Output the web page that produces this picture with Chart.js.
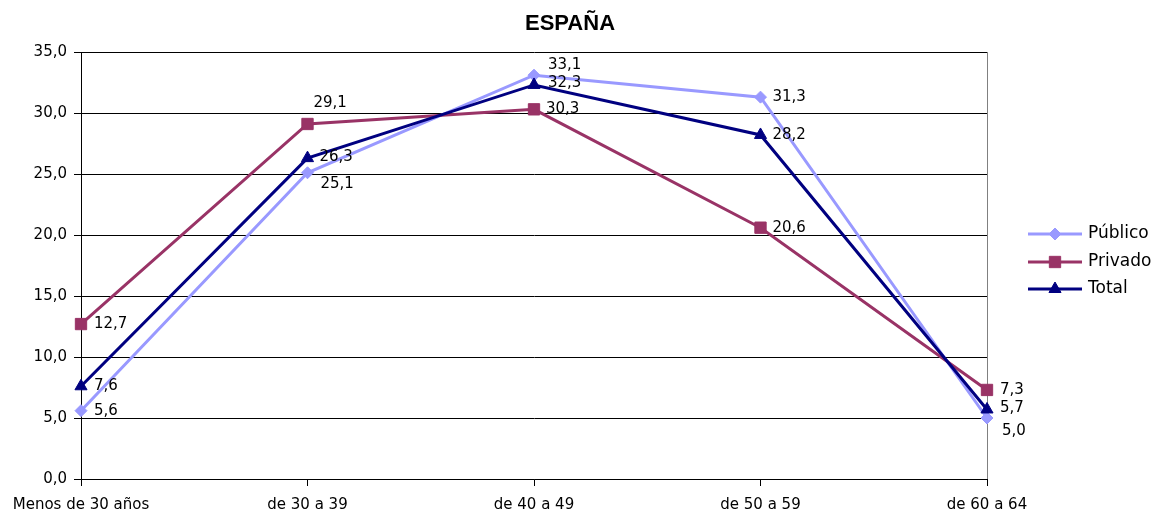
<!DOCTYPE html>
<html lang="es">
<head>
<meta charset="utf-8">
<title>España</title>
<script src="https://cdn.jsdelivr.net/npm/chart.js@4.4.1/dist/chart.umd.min.js"></script>
<style>
    html, body { margin: 0; padding: 0; background: #fff; overflow: hidden; }
    canvas { display: block; }
</style>
</head>
<body>
<canvas id="espanaChart" width="1157" height="511"></canvas>
<script>
// Chart data
const categories = ['Menos de 30 años', 'de 30 a 39', 'de 40 a 49', 'de 50 a 59', 'de 60 a 64'];
const publicoValues = [5.6, 25.1, 33.1, 31.3, 5.0];
const privadoValues = [12.7, 29.1, 30.3, 20.6, 7.3];
const totalValues = [7.6, 26.3, 32.3, 28.2, 5.7];
const yTickValues = [0, 5, 10, 15, 20, 25, 30, 35];
const chartTitle = 'ESPAÑA';

// Where each value label sits relative to its point (dx, dy)
const labelOffsets = {
    'Público': [[13, 0], [13, 11], [14, -10], [12, 0], [15, 13]],
    'Privado': [[13, 0], [6, -21], [12, 0], [12, 0], [13, 0]],
    'Total':   [[13, 0], [12, -1], [14, -2], [12, 0], [13, -1]]
};

const smallFont = '"DejaVu Sans", sans-serif';

// Function to format numbers with a decimal comma
function formatNumber(value) {
    return value.toFixed(1).replace('.', ',');
}

// Plugin: grey right border of the plot area
const framePlugin = {
    id: 'frame',
    beforeDatasetsDraw(chart) {
        const { ctx, chartArea } = chart;
        ctx.save();
        ctx.strokeStyle = '#808080';
        ctx.lineWidth = 1;
        ctx.beginPath();
        ctx.moveTo(chartArea.right + 0.5, chartArea.top);
        ctx.lineTo(chartArea.right + 0.5, chartArea.bottom);
        ctx.stroke();
        ctx.restore();
    }
};

// Plugin: value labels next to the points
const valueLabelsPlugin = {
    id: 'valueLabels',
    afterDatasetsDraw(chart) {
        const ctx = chart.ctx;
        ctx.save();
        ctx.font = '15px ' + smallFont;
        ctx.fillStyle = '#000';
        ctx.textAlign = 'left';
        ctx.textBaseline = 'middle';
        chart.data.datasets.forEach((ds, i) => {
            const meta = chart.getDatasetMeta(i);
            meta.data.forEach((pt, j) => {
                const off = labelOffsets[ds.label][j];
                ctx.fillText(formatNumber(ds.data[j]), pt.x + off[0], pt.y + off[1]);
            });
        });
        ctx.restore();
    }
};

// Plugin: title and legend drawn like the original
const titleLegendPlugin = {
    id: 'titleLegend',
    afterDraw(chart) {
        const ctx = chart.ctx;
        ctx.save();

        // Title
        ctx.font = 'bold 22px "Liberation Sans", Arial, sans-serif';
        ctx.fillStyle = '#000';
        ctx.textAlign = 'center';
        ctx.textBaseline = 'middle';
        ctx.fillText(chartTitle, 570, 24);

        // Legend
        const legendX = 1028;
        const legendY = [234, 262, 289];
        chart.data.datasets.forEach((ds, i) => {
            const y = legendY[i];
            ctx.strokeStyle = ds.borderColor;
            ctx.lineWidth = 3;
            ctx.beginPath();
            ctx.moveTo(legendX, y);
            ctx.lineTo(legendX + 54, y);
            ctx.stroke();

            ctx.fillStyle = ds.pointBackgroundColor;
            ctx.strokeStyle = ds.borderColor;
            ctx.lineWidth = 1;
            Chart.helpers.drawPoint(ctx, {
                pointStyle: ds.pointStyle,
                radius: ds.pointRadius,
                rotation: 0,
                borderWidth: 1
            }, legendX + 27, y);

            ctx.fillStyle = '#000';
            ctx.font = '17px ' + smallFont;
            ctx.textAlign = 'left';
            ctx.fillText(ds.label, legendX + 60, y);
        });
        ctx.restore();
    }
};

// Function to build one line series
function makeSeries(label, values, color, pointStyle, radius, order) {
    return {
        label: label,
        data: values,
        borderColor: color,
        backgroundColor: color,
        pointBackgroundColor: color,
        pointBorderColor: color,
        pointBorderWidth: 1,
        pointStyle: pointStyle,
        pointRadius: radius,
        pointHoverRadius: radius,
        borderWidth: 3,
        tension: 0,
        fill: false,
        clip: false,
        order: order
    };
}

// Create the chart
const ctx = document.getElementById('espanaChart').getContext('2d');
const espanaChart = new Chart(ctx, {
    type: 'line',
    data: {
        labels: categories,
        datasets: [
            makeSeries('Público', publicoValues, '#9999FF', 'rectRot', 6, 2),
            makeSeries('Privado', privadoValues, '#993366', 'rect', 8, 1),
            makeSeries('Total', totalValues, '#000080', 'triangle', 7, 0)
        ]
    },
    options: {
        responsive: false,
        animation: false,
        layout: {
            padding: { top: 52, right: 170, bottom: 0, left: 0 }
        },
        plugins: {
            legend: { display: false },
            title: { display: false },
            tooltip: { enabled: false }
        },
        scales: {
            x: {
                offset: false,
                afterFit: function(scale) { scale.height = 32; },
                grid: {
                    drawOnChartArea: false,
                    drawTicks: true,
                    tickLength: 7,
                    color: '#000'
                },
                border: { color: '#000', width: 1 },
                ticks: {
                    autoSkip: false,
                    maxRotation: 0,
                    padding: 10,
                    color: '#000',
                    font: { family: smallFont, size: 15 }
                }
            },
            y: {
                min: 0,
                max: 35,
                afterFit: function(scale) { scale.width = 81; },
                afterBuildTicks: function(scale) {
                    scale.ticks = yTickValues.map(v => ({ value: v }));
                },
                grid: {
                    color: '#000',
                    lineWidth: 1,
                    drawTicks: true,
                    tickLength: 7
                },
                border: { color: '#000', width: 1 },
                ticks: {
                    padding: 7,
                    color: '#000',
                    font: { family: smallFont, size: 15 },
                    callback: function(value) {
                        return formatNumber(value);
                    }
                }
            }
        }
    },
    plugins: [framePlugin, valueLabelsPlugin, titleLegendPlugin]
});
</script>
</body>
</html>
